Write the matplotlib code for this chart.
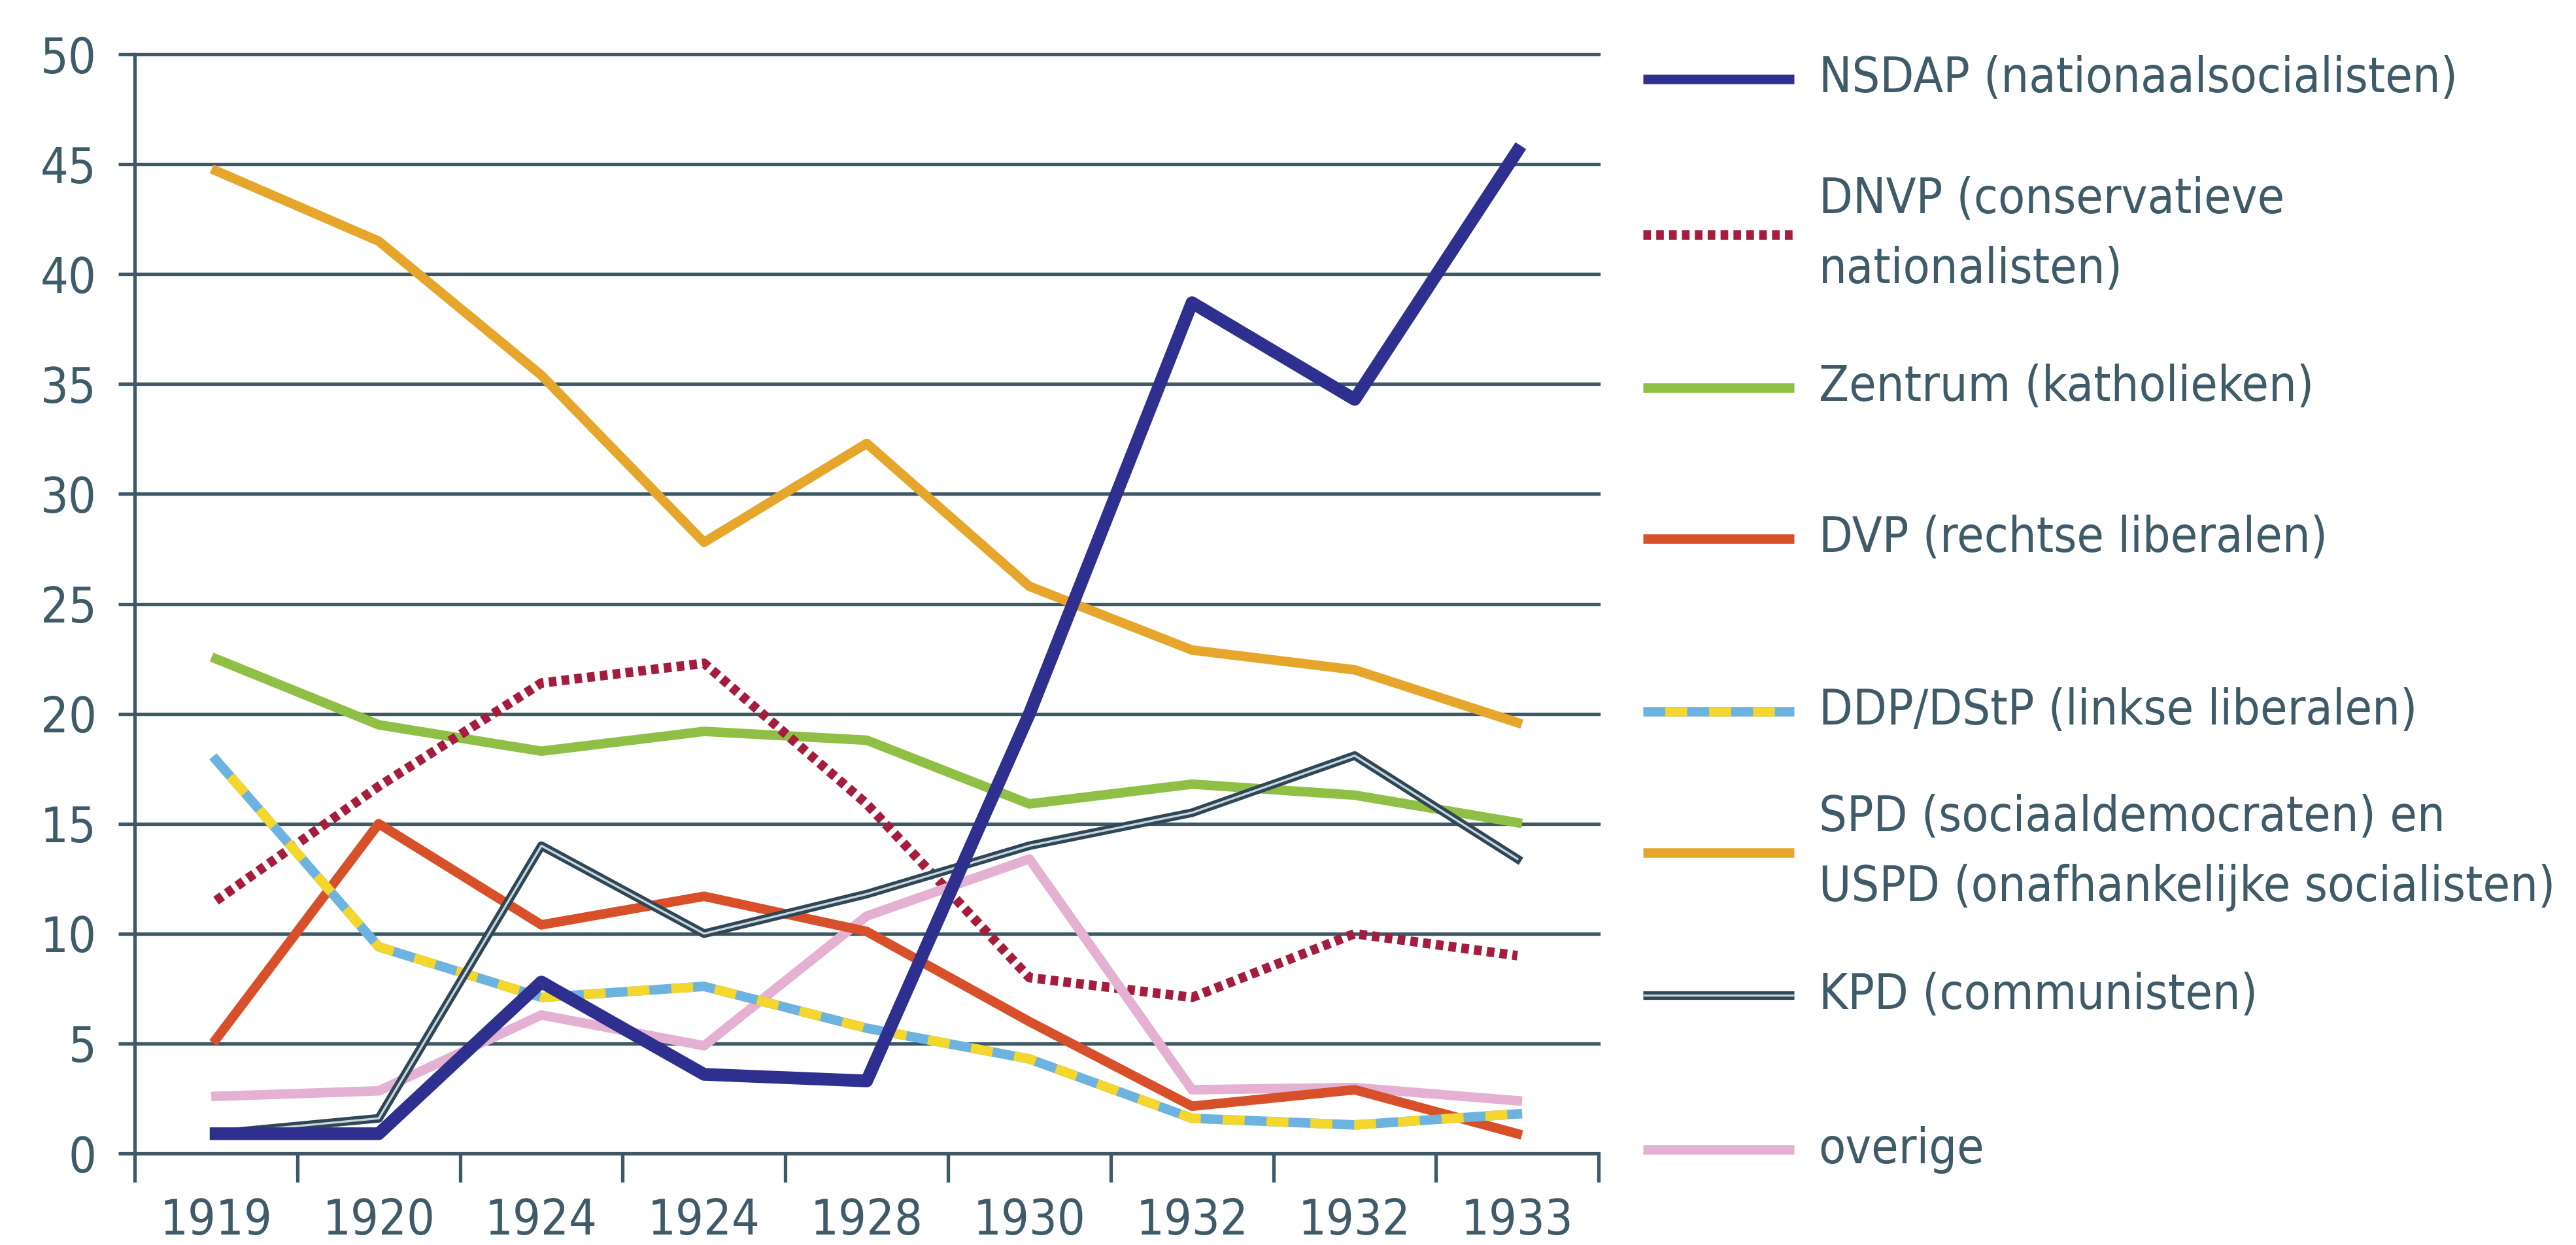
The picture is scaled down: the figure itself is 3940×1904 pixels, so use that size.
import numpy as np
import matplotlib.pyplot as plt
import matplotlib.font_manager as fm
from matplotlib.lines import Line2D

# ---------------- data ----------------
years = ['1919', '1920', '1924', '1924', '1928', '1930', '1932', '1932', '1933']

nsdap   = [0.9, 0.9, 7.8, 3.6, 3.3, 20.0, 38.7, 34.3, 45.6]
dnvp    = [11.5, 16.7, 21.4, 22.3, 15.9, 8.0, 7.1, 10.0, 9.0]
zentrum = [22.5, 19.5, 18.3, 19.2, 18.8, 15.9, 16.8, 16.3, 15.05]
dvp     = [5.2, 15.0, 10.4, 11.7, 10.1, 6.0, 2.15, 2.9, 0.9]
ddp     = [17.9, 9.4, 7.1, 7.6, 5.7, 4.3, 1.6, 1.3, 1.8]
spd     = [44.7, 41.5, 35.4, 27.8, 32.3, 25.8, 22.9, 22.0, 19.6]
kpd     = [0.9, 1.6, 14.0, 10.0, 11.8, 14.0, 15.5, 18.1, 13.4]
overige = [2.6, 2.85, 6.3, 4.9, 10.8, 13.4, 2.9, 3.0, 2.4]

labels = ['NSDAP (nationaalsocialisten)',
          'DNVP (conservatieve\nnationalisten)',
          'Zentrum (katholieken)',
          'DVP (rechtse liberalen)',
          'DDP/DStP (linkse liberalen)',
          'SPD (sociaaldemocraten) en\nUSPD (onafhankelijke socialisten)',
          'KPD (communisten)',
          'overige']
# -------------------------------------------------------------

# look for a narrow/condensed regular face, the original uses one
narrow = None
for f in fm.fontManager.ttflist:
    nm = (f.name + ' ' + f.fname).lower()
    if ('narrow' in nm or 'condensed' in nm) and f.style == 'normal' \
            and f.weight in (400, 'normal', 'regular') and 'bold' not in nm:
        narrow = f.fname
        if 'liberation' in nm or 'dejavu' in nm:
            break
if narrow:
    fp = fm.FontProperties(fname=narrow)
    big = 54
else:
    fp = fm.FontProperties(family='Roboto')
    big = 47

grid_c = '#3e5966'
text_c = '#3f5b68'
c_nsdap = '#2e2f8f'
c_dnvp = '#a51d3c'
c_zentrum = '#8fbf44'
c_dvp = '#d8502a'
c_ddp_a = '#6db3df'
c_ddp_b = '#f4d62c'
c_spd = '#e6a62c'
c_kpd = '#2f4656'
c_kpd_in = '#c8d5db'
c_over = '#e5b1d2'

lw = 10.5
x = np.arange(len(years))

fig = plt.figure(figsize=(39.4, 19.04), dpi=100)
ax = fig.add_axes([0.0523, 0.0735, 0.5683, 0.8829])

dots = (0, (0.8, 0.55))
stripes = (2.3, (2.3, 2.3))
ax.plot(x, spd, color=c_spd, lw=lw)
ax.plot(x, zentrum, color=c_zentrum, lw=lw)
ax.plot(x, dnvp, color=c_dnvp, lw=lw, linestyle=dots, dash_capstyle='butt')
ax.plot(x, overige, color=c_over, lw=lw)
ax.plot(x, dvp, color=c_dvp, lw=lw)
ax.plot(x, ddp, color=c_ddp_a, lw=lw)
ax.plot(x, ddp, color=c_ddp_b, lw=lw, linestyle=stripes, dash_capstyle='butt')
ax.plot(x, kpd, color=c_kpd, lw=9.5)
ax.plot(x, kpd, color=c_kpd_in, lw=2.4)
ax.plot(x, nsdap, color=c_nsdap, lw=14)

ax.set_xlim(-0.5, 8.5)
ax.set_ylim(0, 50)

for s in ['top', 'right', 'bottom']:
    ax.spines[s].set_visible(False)
ax.spines['left'].set_color(grid_c)
ax.spines['left'].set_linewidth(3.8)

ax.set_yticks(range(0, 51, 5))
ax.tick_params(axis='y', length=18, width=3.8, color=grid_c, pad=24,
               labelsize=big, labelcolor=text_c)
ax.grid(axis='y', color=grid_c, lw=3.8)
for gl in ax.get_ygridlines():
    gl.set_clip_on(False)
ax.set_axisbelow(True)

ax.set_xticks(np.arange(-0.5, 9, 1))
ax.set_xticklabels([])
ax.set_xticks(x, minor=True)
ax.set_xticklabels(years, minor=True)
ax.tick_params(axis='x', which='major', length=32, width=3.8, color=grid_c)
ax.tick_params(axis='x', which='minor', length=0, pad=48, labelsize=big, labelcolor=text_c)
for t in ax.get_yticklabels() + ax.get_xticklabels(minor=True):
    t.set_fontproperties(fp)
    t.set_fontsize(big)

# ---------------- legend on the right ----------------
row_y = [0.9367, 0.8113, 0.6887, 0.5673, 0.4288, 0.3153, 0.2005, 0.0765]
hx0, hx1, tx = 0.6378, 0.6964, 0.706
handle_styles = [
    [dict(color=c_nsdap, lw=lw)],
    [dict(color=c_dnvp, lw=lw, linestyle=dots, dash_capstyle='butt')],
    [dict(color=c_zentrum, lw=lw)],
    [dict(color=c_dvp, lw=lw)],
    [dict(color=c_ddp_a, lw=lw),
     dict(color=c_ddp_b, lw=lw, linestyle=stripes, dash_capstyle='butt')],
    [dict(color=c_spd, lw=lw)],
    [dict(color=c_kpd, lw=9.5), dict(color=c_kpd_in, lw=2.4)],
    [dict(color=c_over, lw=lw)],
]
for yy, lab, styles in zip(row_y, labels, handle_styles):
    for st in styles:
        fig.add_artist(Line2D([hx0, hx1], [yy, yy], transform=fig.transFigure,
                              solid_capstyle='butt', **st))
    fig.text(tx, yy, lab, fontproperties=fp, fontsize=big, color=text_c,
             va='center', ha='left', linespacing=1.6)

fig.savefig('out.png', dpi=100, facecolor='white')
